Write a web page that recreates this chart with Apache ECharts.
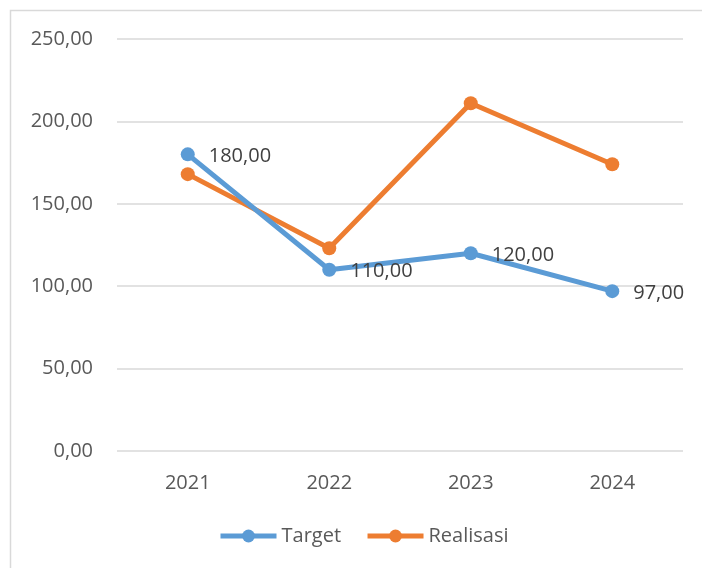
<!DOCTYPE html>
<html>
<head>
<meta charset="utf-8">
<script src="https://cdn.jsdelivr.net/npm/echarts@6/dist/echarts.min.js"></script>
<style>
  html, body { margin: 0; padding: 0; background: #fff; }
  #chart { width: 702px; height: 568px; }
</style>
</head>
<body>
<div id="chart"></div>
<script>
  // Data
  const years = ['2021', '2022', '2023', '2024'];
  const target = [180, 110, 120, 97];
  const realisasi = [168, 123, 211, 174];

  const FONT = '"Open Sans", "Noto Sans", sans-serif';
  const TEXT = '#595959';

  const fmt = v => v.toFixed(2).replace('.', ',');

  const chart = echarts.init(document.getElementById('chart'));

  chart.setOption({
    backgroundColor: '#fff',
    animation: false,
    graphic: [{
      type: 'rect',
      shape: { x: 10.5, y: 10.5, width: 720, height: 600 },
      style: { fill: 'none', stroke: '#d9d9d9', lineWidth: 1.5 },
      silent: true,
    }],
    grid: { left: 117, right: 19, top: 39, bottom: 117 },
    legend: {
      top: 521,
      left: 213,
      itemWidth: 56,
      itemHeight: 16,
      itemGap: 24,
      lineStyle: { width: 5 },
      textStyle: { color: TEXT, fontFamily: FONT, fontSize: 20 },
      data: ['Target', 'Realisasi'],
    },
    xAxis: {
      type: 'category',
      data: years,
      boundaryGap: true,
      axisLine: { show: false },
      axisTick: { show: false },
      axisLabel: { color: TEXT, fontFamily: FONT, fontSize: 20, margin: 22 },
    },
    yAxis: {
      type: 'value',
      min: 0,
      max: 250,
      interval: 50,
      axisLine: { show: false },
      axisTick: { show: false },
      axisLabel: {
        color: TEXT, fontFamily: FONT, fontSize: 20, margin: 24,
        formatter: v => fmt(v),
      },
      splitLine: { lineStyle: { color: '#d9d9d9', width: 1.5 } },
    },
    series: [
      {
        name: 'Target',
        type: 'line',
        data: target,
        symbol: 'circle',
        symbolSize: 14,
        itemStyle: { color: '#5b9bd5' },
        lineStyle: { color: '#5b9bd5', width: 5 },
        label: {
          show: true,
          position: 'right',
          distance: 14,
          offset: [0, 2],
          color: '#404040',
          fontFamily: FONT,
          fontSize: 20,
          formatter: p => fmt(p.value),
        },
        z: 3,
      },
      {
        name: 'Realisasi',
        type: 'line',
        data: realisasi,
        symbol: 'circle',
        symbolSize: 14,
        itemStyle: { color: '#ed7d31' },
        lineStyle: { color: '#ed7d31', width: 5 },
        z: 2,
      },
    ],
  });
</script>
</body>
</html>
